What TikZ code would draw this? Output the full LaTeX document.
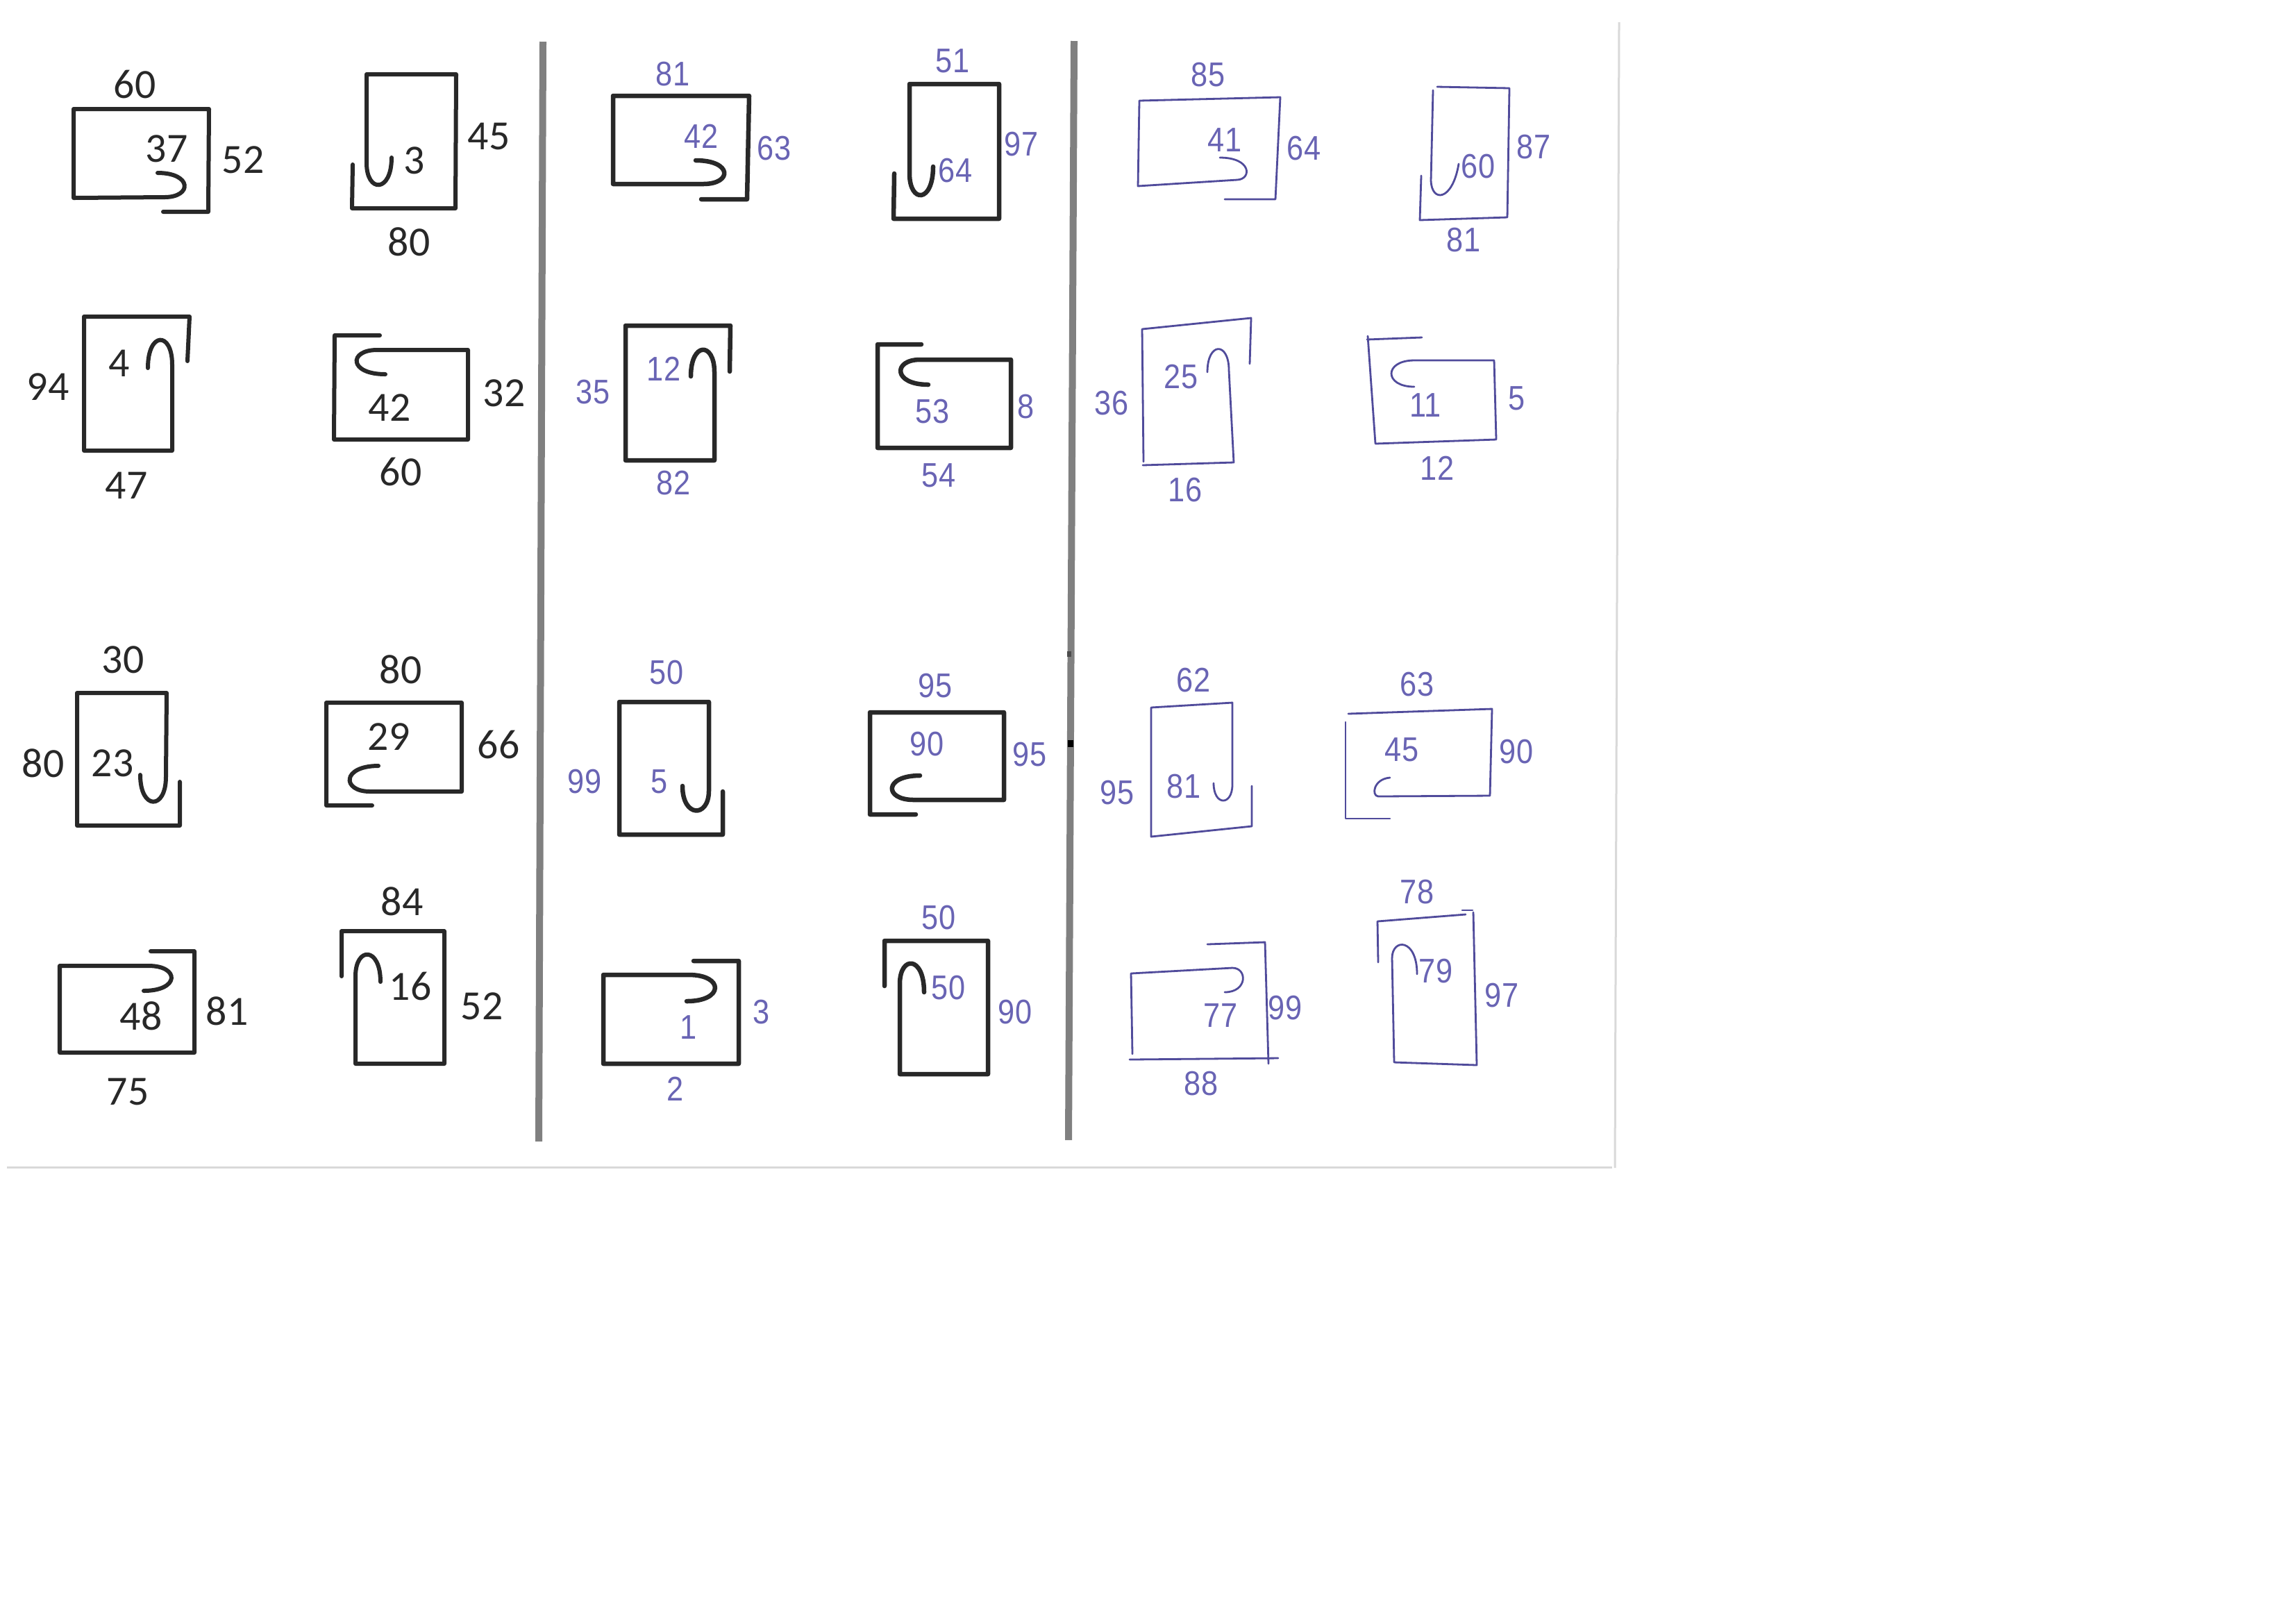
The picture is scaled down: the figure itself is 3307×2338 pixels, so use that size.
\documentclass[tikz,border=0pt]{standalone}
\usepackage{fontspec}
\setmainfont{Carlito}
\newfontfamily\handfont{Liberation Sans}
\definecolor{ink}{RGB}{40,40,40}
\definecolor{pen}{RGB}{105,100,180}
\definecolor{penline}{RGB}{80,75,155}
\begin{document}
\begin{tikzpicture}[x=0.01cm,y=-0.01cm,
  prt/.style={font=\fontsize{17}{17}\selectfont, text=ink, inner sep=0pt},
  hnd/.style={font=\handfont\fontsize{14}{14}\selectfont, text=pen, inner sep=0pt, xscale=0.88},
  printline/.style={draw=ink, line width=0.06cm, line join=round, line cap=round},
  midline/.style={draw=ink, line width=0.065cm, line join=round, line cap=round},
  handline/.style={draw=penline, line width=0.028cm, line join=round, line cap=round},
  divider/.style={draw=black!50, line width=0.1cm},
  pageedge/.style={draw=black!15, line width=0.03cm}]
\useasboundingbox[fill=white] (0,0) rectangle (3307,2338);

% page edges and dividers
\draw[pageedge] (10,1681) -- (2322,1681);
\draw[pageedge] (2332,32) -- (2326,1682);
\draw[divider] (782,60) -- (776,1644);
\draw[divider] (1547,59) -- (1539,1642);
\fill[black!70] (1537,938) rectangle (1543,946);
\fill[black] (1538,1066) rectangle (1546,1076);

% ---------- left panel (printed) ----------
\draw[printline] (235,305) -- (300,305) -- (301,157) -- (106,157) -- (106,285) -- (237,284) .. controls (277,284) and (277,249) .. (227,249);
\draw[printline] (508,237) -- (507,300) -- (656,300) -- (657,107) -- (528,107) -- (528,235) .. controls (528,278) and (564,278) .. (564,227);
\draw[printline] (270,520) -- (273,456) -- (121,456) -- (121,649) -- (248,649) -- (248,525) .. controls (248,477) and (213,477) .. (213,530);
\draw[printline] (547,483) -- (482,483) -- (481,633) -- (674,633) -- (674,504) -- (543,504) .. controls (502,504) and (502,539) .. (555,539);
\draw[printline] (259,1126) -- (259,1189) -- (111,1189) -- (111,998) -- (240,998) -- (239,1119) .. controls (239,1167) and (202,1167) .. (202,1116);
\draw[printline] (536,1160) -- (470,1160) -- (470,1012) -- (665,1012) -- (665,1140) -- (533,1140) .. controls (492,1140) and (492,1103) .. (545,1103);
\draw[printline] (217,1370) -- (280,1370) -- (280,1516) -- (86,1516) -- (86,1391) -- (214,1391) .. controls (259,1391) and (259,1427) .. (207,1427);
\draw[printline] (492,1406) -- (492,1341) -- (640,1341) -- (640,1532) -- (512,1532) -- (512,1406) .. controls (512,1363) and (548,1363) .. (548,1414);

\node[prt] (a1t) at (194,122) {60};
\node[prt] (a1i) at (240,214) {37};
\node[prt] (a1s) at (350,230) {52};
\node[prt] (a2s) at (704,196) {45};
\node[prt] (a2i) at (597,231) {3};
\node[prt] (a2b) at (589,348) {80};
\node[prt] (a3i) at (172,523) {4};
\node[prt] (a3s) at (69,557) {94};
\node[prt] (a3b) at (182,699) {47};
\node[prt] (a4i) at (561,587) {42};
\node[prt] (a4s) at (726,566) {32};
\node[prt] (a4b) at (577,680) {60};
\node[prt] (a5t) at (177,950) {30};
\node[prt] (a5s) at (62,1099) {80};
\node[prt] (a5i) at (162,1099) {23};
\node[prt] (a6t) at (577,964) {80};
\node[prt] (a6i) at (560,1061) {29};
\node[prt] (a6s) at (718,1072) {66};
\node[prt] (a7i) at (203,1463) {48};
\node[prt] (a7s) at (327,1456) {81};
\node[prt] (a7b) at (184,1572) {75};
\node[prt] (a8t) at (579,1298) {84};
\node[prt] (a8i) at (591,1420) {16};
\node[prt] (a8s) at (694,1449) {52};

% ---------- middle panel (printed lines, handwritten numbers) ----------
\draw[midline] (1010,287) -- (1076,287) -- (1079,138) -- (883,138) -- (883,265) -- (1013,265) .. controls (1055,265) and (1055,231) .. (1002,231);
\draw[midline] (1288,250) -- (1287,315) -- (1439,315) -- (1439,121) -- (1310,121) -- (1310,250) .. controls (1310,293) and (1344,293) .. (1344,240);
\draw[midline] (1051,535) -- (1052,469) -- (901,469) -- (901,663) -- (1029,663) -- (1029,536) .. controls (1029,492) and (995,492) .. (995,542);
\draw[midline] (1327,496) -- (1264,496) -- (1264,645) -- (1456,645) -- (1456,518) -- (1325,518) .. controls (1286,518) and (1286,554) .. (1337,554);
\draw[midline] (1041,1140) -- (1041,1202) -- (892,1202) -- (892,1011) -- (1021,1011) -- (1021,1139) .. controls (1021,1178) and (983,1178) .. (983,1132);
\draw[midline] (1319,1173) -- (1253,1173) -- (1253,1026) -- (1446,1026) -- (1446,1152) -- (1316,1152) .. controls (1273,1152) and (1273,1117) .. (1325,1117);
\draw[midline] (999,1384) -- (1064,1384) -- (1064,1532) -- (869,1532) -- (869,1404) -- (992,1404) .. controls (1043,1404) and (1043,1442) .. (989,1442);
\draw[midline] (1274,1420) -- (1274,1355) -- (1423,1355) -- (1423,1547) -- (1296,1547) -- (1296,1417) .. controls (1296,1376) and (1331,1376) .. (1331,1429);

\node[hnd] (b1t) at (969,107) {81};
\node[hnd] (b1i) at (1010,196) {42};
\node[hnd] (b1s) at (1115,214) {63};
\node[hnd] (b2t) at (1372,88) {51};
\node[hnd] (b2s) at (1471,208) {97};
\node[hnd] (b2i) at (1376,246) {64};
\node[hnd] (b3i) at (956,531) {12};
\node[hnd] (b3s) at (854,565) {35};
\node[hnd] (b3b) at (970,696) {82};
\node[hnd] (b4i) at (1343,593) {53};
\node[hnd] (b4s) at (1478,586) {8};
\node[hnd] (b4b) at (1352,685) {54};
\node[hnd] (b5t) at (960,969) {50};
\node[hnd] (b5s) at (842,1126) {99};
\node[hnd] (b5i) at (950,1126) {5};
\node[hnd] (b6t) at (1347,988) {95};
\node[hnd] (b6i) at (1335,1072) {90};
\node[hnd] (b6s) at (1483,1087) {95};
\node[hnd] (b7i) at (992,1480) {1};
\node[hnd] (b7s) at (1097,1458) {3};
\node[hnd] (b7b) at (973,1568) {2};
\node[hnd] (b8t) at (1352,1322) {50};
\node[hnd] (b8i) at (1366,1423) {50};
\node[hnd] (b8s) at (1462,1458) {90};

% ---------- right panel (handwritten) ----------
\draw[handline] (1764,287) -- (1837,287) -- (1844,140) -- (1641,145) -- (1639,268) -- (1782,259) .. controls (1803,258) and (1803,227) .. (1757,227);
\draw[handline] (2047,253) -- (2045,317) -- (2171,313) -- (2174,127) -- (2070,125);
\draw[handline] (2064,130) -- (2061,260) .. controls (2062,292) and (2092,290) .. (2101,236);
\draw[handline] (1800,524) -- (1802,458) -- (1645,474) -- (1647,665);
\draw[handline] (1646,670) -- (1777,666) -- (1770,533) .. controls (1770,492) and (1739,492) .. (1739,536);
\draw[handline] (2048,486) -- (1969,489);
\draw[handline] (1970,484) -- (1981,639) -- (2155,633) -- (2152,519) -- (2037,519) .. controls (1993,519) and (1993,557) .. (2037,557);
\draw[handline] (1803,1132) -- (1803,1190) -- (1658,1205) -- (1658,1019) -- (1775,1012) -- (1775,1130) .. controls (1775,1161) and (1748,1161) .. (1748,1128);
\draw[handline] (1942,1028) -- (2149,1021) -- (2146,1146) -- (1985,1147) .. controls (1975,1146) and (1978,1122) .. (2002,1120);
\draw[handline] (1938,1040) -- (1938,1179) -- (2002,1179);
\draw[handline] (1739,1360) -- (1822,1357) -- (1827,1532);
\draw[handline] (1627,1526) -- (1841,1524);
\draw[handline] (1631,1518) -- (1629,1402) -- (1775,1394) .. controls (1797,1394) and (1797,1429) .. (1764,1429);
\draw[handline] (1985,1386) -- (1984,1327) -- (2111,1317);
\draw[handline] (2106,1311) -- (2121,1311);
\draw[handline] (2122,1314) -- (2127,1534) -- (2008,1530) -- (2005,1380) .. controls (2005,1351) and (2041,1351) .. (2041,1403);

\node[hnd] (c1t) at (1740,108) {85};
\node[hnd] (c1i) at (1764,202) {41};
\node[hnd] (c1s) at (1878,214) {64};
\node[hnd] (c2s) at (2209,212) {87};
\node[hnd] (c2i) at (2129,240) {60};
\node[hnd] (c2b) at (2108,346) {81};
\node[hnd] (c3i) at (1701,543) {25};
\node[hnd] (c3s) at (1601,581) {36};
\node[hnd] (c3b) at (1707,706) {16};
\node[hnd] (c4i) at (2053,584) {11};
\node[hnd] (c4s) at (2185,574) {5};
\node[hnd] (c4b) at (2070,674) {12};
\node[hnd] (c5t) at (1719,980) {62};
\node[hnd] (c5s) at (1609,1142) {95};
\node[hnd] (c5i) at (1705,1133) {81};
\node[hnd] (c6t) at (2041,986) {63};
\node[hnd] (c6i) at (2019,1080) {45};
\node[hnd] (c6s) at (2184,1083) {90};
\node[hnd] (c7i) at (1758,1463) {77};
\node[hnd] (c7s) at (1851,1452) {99};
\node[hnd] (c7b) at (1730,1561) {88};
\node[hnd] (c8t) at (2041,1285) {78};
\node[hnd] (c8i) at (2068,1399) {79};
\node[hnd] (c8s) at (2163,1434) {97};
\end{tikzpicture}
\end{document}
